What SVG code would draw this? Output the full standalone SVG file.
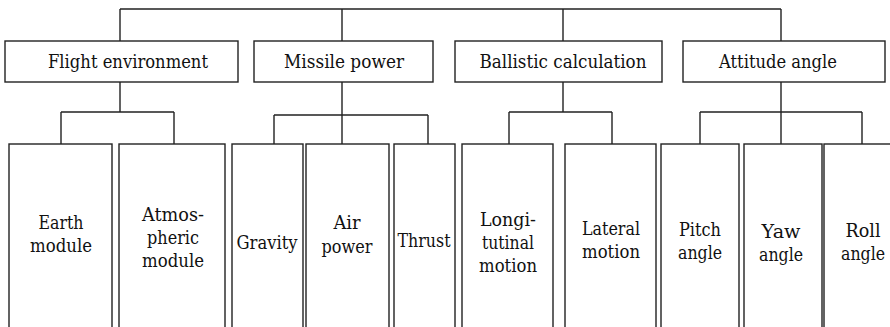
<svg xmlns="http://www.w3.org/2000/svg" width="890" height="327" viewBox="0 0 890 327">
<style>
.box{fill:#fff;stroke:#222;stroke-width:1.4}
.ln{fill:none;stroke:#222;stroke-width:1.4}
.t{font-family:'DejaVu Serif',serif;font-size:18.5px;fill:#111;text-anchor:middle}
</style>
<rect width="890" height="327" fill="#fff"/>
<g id="connectors">
<path class="ln" d="M120,9 H781 M120,9 V41 M342,9 V41 M563,9 V41 M781,9 V41"/>
<path class="ln" d="M120,82 V112 M61,112 H174 M61,112 V144 M174,112 V144"/>
<path class="ln" d="M342,82 V115 M274,115 H428 M274,115 V144 M342,115 V144 M428,115 V144"/>
<path class="ln" d="M563,82 V112 M509,112 H612 M509,112 V144 M612,112 V144"/>
<path class="ln" d="M781,82 V112 M700,112 H862 M700,112 V144 M781,112 V144 M862,112 V144"/>
</g>
<g class="t">
<g id="flight-environment"><rect class="box" x="5" y="41" width="233" height="41"/><text x="128" y="68" textLength="160" lengthAdjust="spacingAndGlyphs">Flight environment</text></g>
<g id="missile-power"><rect class="box" x="254" y="41" width="179" height="41"/><text x="344" y="68" textLength="120" lengthAdjust="spacingAndGlyphs">Missile power</text></g>
<g id="ballistic-calculation"><rect class="box" x="455" y="41" width="207" height="41"/><text x="563" y="68" textLength="167" lengthAdjust="spacingAndGlyphs">Ballistic calculation</text></g>
<g id="attitude-angle"><rect class="box" x="683" y="41" width="202" height="41"/><text x="778" y="68" textLength="118" lengthAdjust="spacingAndGlyphs">Attitude angle</text></g>
<g id="earth-module"><rect class="box" x="9" y="144" width="103" height="200"/><text x="61" y="229" textLength="45" lengthAdjust="spacingAndGlyphs">Earth</text><text x="61" y="252" textLength="62" lengthAdjust="spacingAndGlyphs">module</text></g>
<g id="atmospheric-module"><rect class="box" x="119" y="144" width="106" height="200"/><text x="173" y="221" textLength="62" lengthAdjust="spacingAndGlyphs">Atmos-</text><text x="173" y="244" textLength="52" lengthAdjust="spacingAndGlyphs">pheric</text><text x="173" y="267" textLength="62" lengthAdjust="spacingAndGlyphs">module</text></g>
<g id="gravity"><rect class="box" x="232" y="144" width="71" height="200"/><text x="267" y="249" textLength="61" lengthAdjust="spacingAndGlyphs">Gravity</text></g>
<g id="air-power"><rect class="box" x="306" y="144" width="83" height="200"/><text x="347" y="229" textLength="27" lengthAdjust="spacingAndGlyphs">Air</text><text x="347" y="253" textLength="51" lengthAdjust="spacingAndGlyphs">power</text></g>
<g id="thrust"><rect class="box" x="394" y="144" width="61" height="200"/><text x="424" y="247" textLength="53" lengthAdjust="spacingAndGlyphs">Thrust</text></g>
<g id="longitutinal-motion"><rect class="box" x="462" y="144" width="91" height="200"/><text x="508" y="226" textLength="56" lengthAdjust="spacingAndGlyphs">Longi-</text><text x="508" y="249" textLength="52" lengthAdjust="spacingAndGlyphs">tutinal</text><text x="508" y="272" textLength="58" lengthAdjust="spacingAndGlyphs">motion</text></g>
<g id="lateral-motion"><rect class="box" x="565" y="144" width="91" height="200"/><text x="611" y="235" textLength="58" lengthAdjust="spacingAndGlyphs">Lateral</text><text x="611" y="258" textLength="58" lengthAdjust="spacingAndGlyphs">motion</text></g>
<g id="pitch-angle"><rect class="box" x="661" y="144" width="78" height="200"/><text x="700" y="236" textLength="42" lengthAdjust="spacingAndGlyphs">Pitch</text><text x="700" y="259" textLength="44" lengthAdjust="spacingAndGlyphs">angle</text></g>
<g id="yaw-angle"><rect class="box" x="744" y="144" width="78" height="200"/><text x="781" y="238" textLength="39" lengthAdjust="spacingAndGlyphs">Yaw</text><text x="781" y="261" textLength="44" lengthAdjust="spacingAndGlyphs">angle</text></g>
<g id="roll-angle"><rect class="box" x="824" y="144" width="80" height="200"/><text x="863" y="237" textLength="35" lengthAdjust="spacingAndGlyphs">Roll</text><text x="863" y="260" textLength="44" lengthAdjust="spacingAndGlyphs">angle</text></g>
</g>
</svg>
